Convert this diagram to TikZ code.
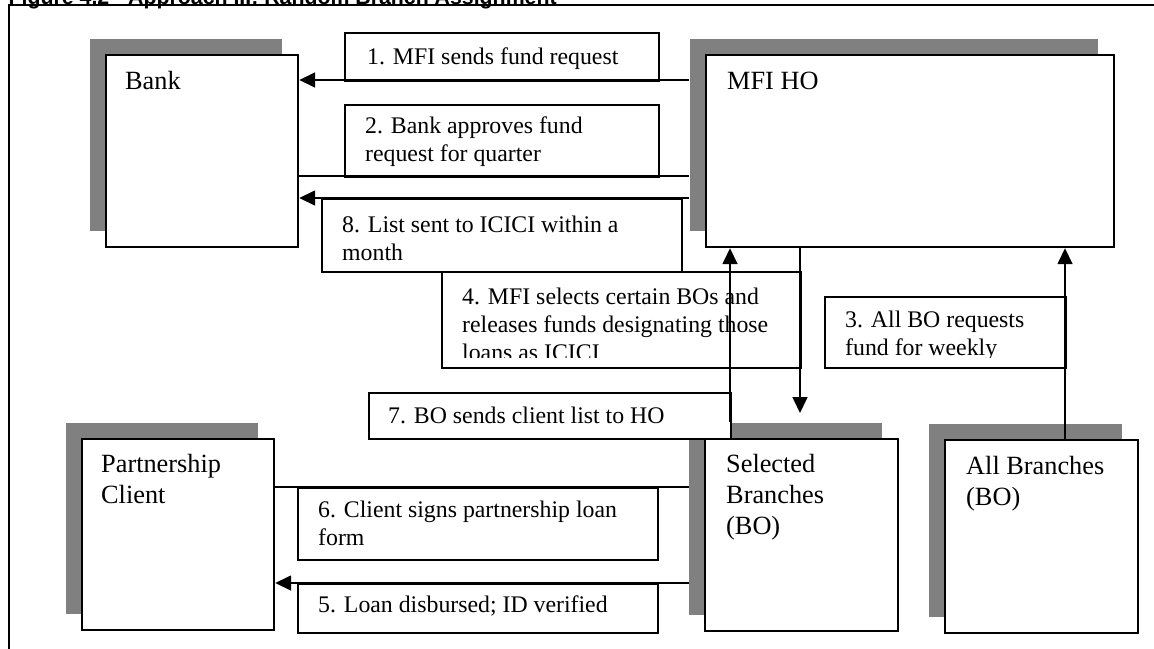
\documentclass[tikz,border=0pt]{standalone}
\usepackage{fontspec}
\setmainfont{Liberation Serif}
\newfontfamily\titlefont{Liberation Sans}
\usetikzlibrary{arrows.meta,shadows}
\definecolor{shadowgray}{HTML}{808080}
\tikzset{
  frameline/.style={line width=2pt},
  entity/.style={rectangle, draw, line width=2.2pt, fill=white, anchor=north west,
    inner sep=0pt,
    drop shadow={shadow xshift=-16pt, shadow yshift=16pt, opacity=1, fill=shadowgray}},
  tagbox/.style={rectangle, draw, line width=1.8pt, fill=white, anchor=north west, inner sep=0pt},
  bigtxt/.style={anchor=north west, inner sep=0pt, align=left, font=\fontsize{26.3}{31}\selectfont},
  smalltxt/.style={anchor=north west, inner sep=0pt, align=left, font=\fontsize{23.8}{28}\selectfont},
  link/.style={line width=1.6pt},
  arr/.style={link, -{Triangle[length=16pt,width=15pt]}},
}
\begin{document}
\begin{tikzpicture}[x=1pt, y=-1pt]
\useasboundingbox (0,0) rectangle (1154,648);
\clip (0,0) rectangle (1154,648);

% caption (runs off the top edge) and the open frame
\node[anchor=base west, inner sep=0pt, font=\titlefont\bfseries\fontsize{21.3}{24}\selectfont]
  (title) at (8.5,4) {Figure 4.2 - Approach III: Random Branch Assignment};
\draw[frameline] (9,660) -- (9,5) -- (1170,5);

% parties
\node[entity, minimum width=192pt, minimum height=192pt] (bank)    at (105,54)  {};
\node[entity, minimum width=408pt, minimum height=192pt] (mfi)     at (705,54)  {};
\node[entity, minimum width=192pt, minimum height=191pt] (partner) at (81,438)  {};
\node[entity, minimum width=193pt, minimum height=192pt] (sel)     at (704,438) {};
\node[entity, minimum width=193pt, minimum height=193pt] (allbo)   at (944,439) {};

\node[bigtxt] (bankT)    at (125,67.3)  {\strut Bank};
\node[bigtxt] (mfiT)     at (727,67.3)  {\strut MFI HO};
\node[bigtxt] (partnerT) at (101,450.3) {\strut Partnership\\Client};
\node[bigtxt] (selT)     at (726,450.3) {\strut Selected\\Branches\\(BO)};
\node[bigtxt] (allboT)   at (966,452.3) {\strut All Branches\\(BO)};

% step labels
\node[tagbox, minimum width=314pt, minimum height=48pt] (l1) at (344,32)  {};
\node[tagbox, minimum width=314pt, minimum height=72pt] (l2) at (344,104) {};
\node[tagbox, minimum width=360pt, minimum height=73pt] (l8) at (321,198) {};
\node[tagbox, minimum width=359pt, minimum height=96pt] (l4) at (441,271) {};
\node[tagbox, minimum width=241pt, minimum height=71pt] (l3) at (824,296) {};
\node[tagbox, minimum width=362pt, minimum height=46pt] (l7) at (368,392) {};
\node[tagbox, minimum width=360pt, minimum height=72pt] (l6) at (297,487) {};
\node[tagbox, minimum width=360pt, minimum height=49pt] (l5) at (297,583) {};

\node[smalltxt] (t1) at (367,44.4) {\strut 1. MFI sends fund request};
\begin{scope}
  \clip (l2.north west) rectangle ([yshift=11pt]l2.south east);
  \node[smalltxt] (t2) at (365,113.4) {\strut 2. Bank approves fund\\request for quarter};
\end{scope}
\node[smalltxt] (t8) at (342,212.4) {\strut 8. List sent to ICICI within a\\month};
\begin{scope}
  \clip (l4.north west) rectangle ([yshift=11pt]l4.south east);
  \node[smalltxt] (t4) at (462,284.4) {\strut 4. MFI selects certain BOs and\\releases funds designating those\\loans as ICICI};
\end{scope}
\begin{scope}
  \clip (l3.north west) rectangle ([yshift=11pt]l3.south east);
  \node[smalltxt] (t3) at (845,307.4) {\strut 3. All BO requests\\fund for weekly};
\end{scope}
\node[smalltxt] (t7) at (388,403.4) {\strut 7. BO sends client list to HO};
\node[smalltxt] (t6) at (318,497.4) {\strut 6. Client signs partnership loan\\form};
\node[smalltxt] (t5) at (318,592.4) {\strut 5. Loan disbursed; ID verified};

% rows and columns of the connectors
\coordinate (r1) at (0,80);
\coordinate (r2) at (0,176);
\coordinate (r8) at (0,198);
\coordinate (r6) at (0,487);
\coordinate (r5) at (0,583);
\coordinate (c7) at (730,0);
\coordinate (c4) at (800,0);
\coordinate (c3) at (1065,0);
\coordinate (mfiEdge) at ([xshift=-16pt]mfi.west);
\coordinate (selEdge) at ([xshift=-15pt]sel.west);
\coordinate (selTop)  at ([yshift=16pt]sel.north);
\coordinate (selTip)  at ([yshift=25pt]sel.north);

% connectors
\draw[arr]  (mfiEdge |- r1) -- (bank.east |- r1);
\draw[link] (bank.east |- r2) -- (mfiEdge |- r2);
\draw[arr]  (mfiEdge |- r8) -- (bank.east |- r8);
\draw[arr]  (mfi.south -| c4) -- (selTip -| c4);
\draw[arr]  (selTop -| c7) -- (mfi.south -| c7);
\draw[arr]  (allbo.north -| c3) -- (mfi.south -| c3);
\draw[link] (partner.east |- r6) -- (selEdge |- r6);
\draw[arr]  (selEdge |- r5) -- (partner.east |- r5);
\end{tikzpicture}
\end{document}
